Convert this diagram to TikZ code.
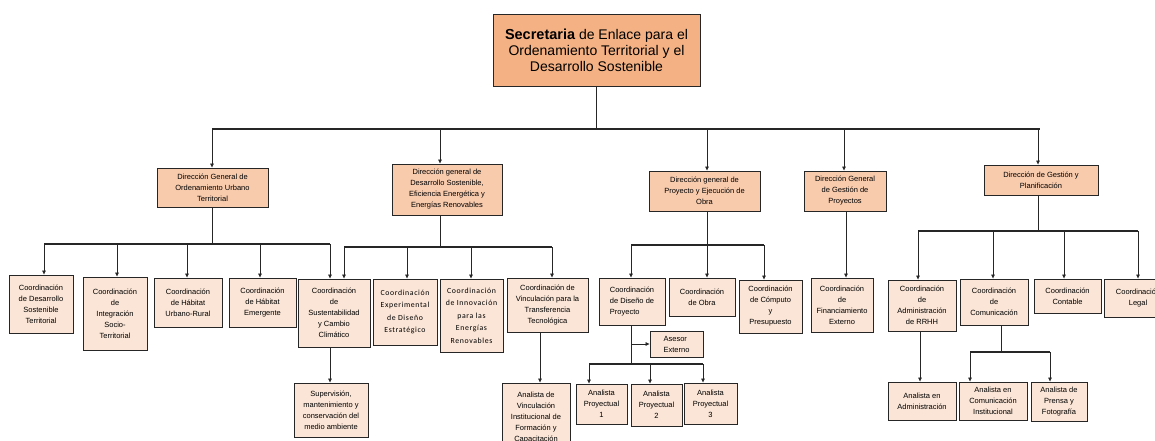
\documentclass[tikz,border=0pt]{standalone}
\usepackage{fontspec}
\setmainfont{Liberation Sans}
\newfontfamily\calfont[LetterSpace=8]{Carlito}
\usetikzlibrary{arrows.meta}

\definecolor{toporange}{HTML}{F4B183}
\definecolor{dirpeach}{HTML}{F8CBAD}
\definecolor{coordpeach}{HTML}{FBE5D6}
\definecolor{edge}{HTML}{262626}

\tikzset{
  box/.style={draw=edge, line width=0.9pt, inner sep=1pt, align=center,
    font=\fontsize{7.5}{11}\selectfont},
  topbox/.style={box, fill=toporange, font=\fontsize{14}{16}\selectfont},
  dirbox/.style={box, fill=dirpeach},
  coordbox/.style={box, fill=coordpeach},
  sz/.style 2 args={minimum width=#1pt, minimum height=#2pt},
  wire/.style={draw=edge, line width=0.7pt},
  bar/.style={draw=edge, line width=2pt},
  arrow/.style={wire, -{Triangle[length=4pt,width=3.5pt]}},
}

\begin{document}
\begin{tikzpicture}[x=1pt, y=-1pt]
\useasboundingbox (0,0) rectangle (1155,441);
\clip (0,0) rectangle (1155,441);

% ---------- head ----------
\node[topbox, sz={207}{72}] (sec) at (596.5,50)
  {{\fontsize{14.5}{16}\selectfont\bfseries Secretaria} de Enlace para el\\Ordenamiento Territorial y el\\Desarrollo Sostenible};

% ---------- directorates ----------
\node[dirbox, sz={111}{39}] (d1) at (212.5,187.5) {Dirección General de\\Ordenamiento Urbano\\Territorial};
\node[dirbox, sz={110}{51}] (d2) at (447,189.5) {Dirección general de\\Desarrollo Sostenible,\\Eficiencia Energética y\\Energías Renovables};
\node[dirbox, sz={111}{40}] (d3) at (704.5,191) {Dirección general de\\Proyecto y Ejecución de\\Obra};
\node[dirbox, sz={82}{40}] (d4) at (845,191) {Dirección General\\de Gestión de\\Proyectos};
\node[dirbox, sz={114}{30}] (d5) at (1041,180) {Dirección de Gestión y\\Planificación};

% ---------- coordinations ----------
\node[coordbox, sz={64}{58}] (c1) at (41,304) {Coordinación\\de Desarrollo\\Sostenible\\Territorial};
\node[coordbox, sz={64}{73}] (c2) at (115,313.5) {Coordinación\\de\\Integración\\Socio-\\Territorial};
\node[coordbox, sz={68}{49}] (c3) at (188,302.5) {Coordinación\\de Hábitat\\Urbano-Rural};
\node[coordbox, sz={67}{49}] (c4) at (262.5,302.5) {Coordinación\\de Hábitat\\Emergente};
\node[coordbox, sz={72}{68}] (c5) at (334,313) {Coordinación\\de\\Sustentabilidad\\y Cambio\\Climático};
\node[coordbox, sz={64}{66}, font=\calfont\fontsize{7.8}{12.5}\selectfont] (c6) at (405,312) {Coordinación\\Experimental\\de Diseño\\Estratégico};
\node[coordbox, sz={63}{73}, font=\calfont\fontsize{7.8}{12.5}\selectfont] (c7) at (471.5,315.5) {Coordinación\\de Innovación\\para las\\Energías\\Renovables};
\node[coordbox, sz={81}{54}] (c8) at (547.5,305) {Coordinación de\\Vinculación para la\\Transferencia\\Tecnológica};
\node[coordbox, sz={66}{47}, align=left] (c9) at (632,301.5) {Coordinación\\de Diseño de\\Proyecto};
\node[coordbox, sz={66}{38}] (c10) at (702,297) {Coordinación\\de Obra};
\node[coordbox, sz={63}{53}] (c11) at (770.5,306.5) {Coordinación\\de Cómputo\\y\\Presupuesto};
\node[coordbox, sz={62}{54}] (c12) at (842,305) {Coordinación\\de\\Financiamiento\\Externo};
\node[coordbox, sz={68}{51}] (c13) at (922,305.5) {Coordinación\\de\\Administración\\de RRHH};
\node[coordbox, sz={68}{46}] (c14) at (994,302) {Coordinación\\de\\Comunicación};
\node[coordbox, sz={67}{34}] (c15) at (1067.5,296) {Coordinación\\Contable};
\node[coordbox, sz={68}{38}] (c16) at (1138,298) {Coordinación\\Legal};

% ---------- analysts and advisers ----------
\node[coordbox, sz={74}{54}] (a1) at (331,410) {Supervisión,\\mantenimiento y\\conservación del\\medio ambiente};
\node[coordbox, sz={68}{70}] (a2) at (536,418) {Analista de\\Vinculación\\Institucional de\\Formación y\\Capacitación};
\node[coordbox, sz={53}{26}, align=left] (asesor) at (676.5,344) {Asesor\\Externo};
\node[coordbox, sz={51}{40}] (p1) at (601.5,404) {Analista\\Proyectual\\1};
\node[coordbox, sz={51}{42}] (p2) at (656.5,405) {Analista\\Proyectual\\2};
\node[coordbox, sz={53}{41}] (p3) at (710.5,403.5) {Analista\\Proyectual\\3};
\node[coordbox, sz={68}{38}] (an1) at (922,401) {Analista en\\Administración};
\node[coordbox, sz={68}{38}] (an2) at (993,401) {Analista en\\Comunicación\\Institucional};
\node[coordbox, sz={56}{39}] (an3) at (1059,401.5) {Analista de\\Prensa y\\Fotografía};

% ---------- head to directorates ----------
\coordinate (tL) at (212,129);
\coordinate (tR) at (1040,129);
\draw[wire] (sec.south) -- (sec.south |- tL);
\draw[bar] (tL) -- (tR);
\foreach \x/\n in {212/d1, 440/d2, 707/d3, 844/d4, 1038/d5}{
  \coordinate (j) at (\x,129);
  \draw[arrow] (j) -- (j |- \n.north);
}

% ---------- Ordenamiento Urbano ----------
\coordinate (aL) at (44,244);
\coordinate (aR) at (330,244);
\draw[wire] (d1.south) -- (d1.south |- aL);
\draw[bar] (aL) -- (aR);
\foreach \x/\n in {44/c1, 117/c2, 187/c3, 260/c4, 330/c5}{
  \coordinate (j) at (\x,244);
  \draw[arrow] (j) -- (j |- \n.north);
}

% ---------- Desarrollo Sostenible ----------
\coordinate (bL) at (344,247);
\coordinate (bR) at (552,247);
\coordinate (d2dn) at ([xshift=-7pt]d2.south);
\draw[wire] (d2dn) -- (d2dn |- bL);
\draw[bar] (bL) -- (bR);
\foreach \x/\n in {344/c5, 407/c6, 471/c7, 552/c8}{
  \coordinate (j) at (\x,247);
  \draw[arrow] (j) -- (j |- \n.north);
}

% ---------- Proyecto y Ejecución de Obra ----------
\coordinate (cL) at (631,245);
\coordinate (cR) at (764,245);
\coordinate (d3dn) at ([xshift=2.5pt]d3.south);
\draw[wire] (d3dn) -- (d3dn |- cL);
\draw[bar] (cL) -- (cR);
\foreach \x/\n in {631/c9, 707/c10, 764/c11}{
  \coordinate (j) at (\x,245);
  \draw[arrow] (j) -- (j |- \n.north);
}

% ---------- Gestión de Proyectos ----------
\coordinate (d4dn) at ([xshift=1pt]d4.south);
\draw[arrow] (d4dn) -- (d4dn |- c12.north);

% ---------- Gestión y Planificación ----------
\coordinate (eL) at (918,231);
\coordinate (eR) at (1138,231);
\coordinate (d5dn) at ([xshift=-3pt]d5.south);
\draw[wire] (d5dn) -- (d5dn |- eL);
\draw[bar] (eL) -- (eR);
\foreach \x/\n in {918/c13, 993/c14, 1064/c15, 1138/c16}{
  \coordinate (j) at (\x,231);
  \draw[arrow] (j) -- (j |- \n.north);
}

% ---------- lower level ----------
\coordinate (c5dn) at ([xshift=-4pt]c5.south);
\draw[arrow] (c5dn) -- (c5dn |- a1.north);
\coordinate (c8dn) at ([xshift=-7.5pt]c8.south);
\draw[arrow] (c8dn) -- (c8dn |- a2.north);

% Diseño de Proyecto: adviser and analysts
\coordinate (fL) at (589,364);
\coordinate (fR) at (703,364);
\coordinate (c9dn) at ([xshift=-1pt]c9.south);
\draw[wire] (c9dn) -- (c9dn |- fL);
\coordinate (asj) at (c9dn |- asesor.west);
\draw[arrow] (asj) -- (asesor.west);
\draw[bar] (fL) -- (fR);
\foreach \x/\n in {589/p1, 650/p2, 703/p3}{
  \coordinate (j) at (\x,364);
  \draw[arrow] (j) -- (j |- \n.north);
}

% RRHH
\coordinate (c13dn) at ([xshift=-2pt]c13.south);
\draw[arrow] (c13dn) -- (c13dn |- an1.north);

% Comunicación
\coordinate (gL) at (970,352);
\coordinate (gR) at (1050,352);
\coordinate (c14dn) at ([xshift=7pt]c14.south);
\draw[wire] (c14dn) -- (c14dn |- gL);
\draw[bar] (gL) -- (gR);
\foreach \x/\n in {970/an2, 1050/an3}{
  \coordinate (j) at (\x,352);
  \draw[arrow] (j) -- (j |- \n.north);
}
\end{tikzpicture}
\end{document}
